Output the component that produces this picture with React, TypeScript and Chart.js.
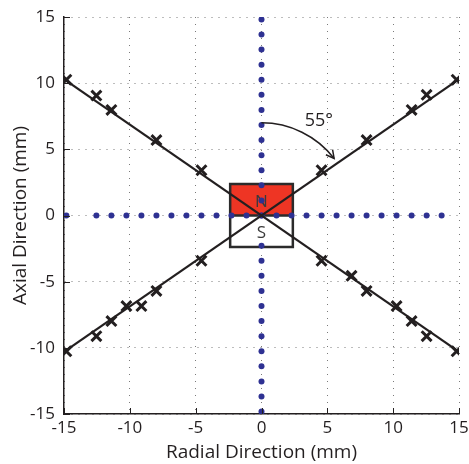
import React, { useEffect, useRef } from 'react';
import { Chart, registerables } from 'chart.js';

Chart.register(...registerables);

// ---------- data ----------
const AXIS_MIN = -15;
const AXIS_MAX = 15;
const TICK_STEP = 5;
const X_TITLE = 'Radial Direction (mm)';
const Y_TITLE = 'Axial Direction (mm)';

// field lines through the centre (55° from the axial direction)
const LINE_A = [{ x: -15, y: 10.3 }, { x: 15, y: -10.3 }];
const LINE_B = [{ x: -15, y: -10.3 }, { x: 15, y: 10.3 }];

// measurement markers (x)
const MARK_UL_X = [-14.82, -12.54, -11.4, -7.98, -4.56];
const MARK_UL_Y = [10.26, 9.06, 7.98, 5.7, 3.42];
const MARK_UR_X = [4.56, 7.98, 11.4, 12.54, 14.82];
const MARK_UR_Y = [3.42, 5.7, 7.98, 9.12, 10.26];
const MARK_LL_X = [-14.82, -12.54, -11.4, -10.26, -9.12, -7.98, -4.56];
const MARK_LL_Y = [-10.26, -9.12, -7.98, -6.84, -6.84, -5.7, -3.42];
const MARK_LR_X = [4.56, 6.84, 7.98, 10.26, 11.4, 12.54, 14.82];
const MARK_LR_Y = [-3.42, -4.56, -5.7, -6.84, -7.98, -9.12, -10.26];

// sensor positions along the axes (blue dots)
const HORIZ_DOTS_X = [-14.82, -12.54, -11.4, -10.26, -9.12, -7.98, -6.84, -5.7, -4.56, -3.42, -2.28, -1.14, 0,
  1.14, 2.28, 3.42, 4.56, 5.7, 6.84, 7.98, 9.12, 10.26, 11.4, 12.54, 13.68];
const VERT_DOTS_Y = [14.82, 13.68, 12.54, 11.4, 10.26, 9.12, 7.98, 6.84, 5.7, 4.56, 3.42, 2.28, 1.14, 0,
  -2.28, -3.42, -4.56, -5.7, -6.84, -7.98, -9.12, -10.26, -11.4, -12.54, -13.68, -14.82];

// magnet
const MAGNET_HALF = 2.38;
const NORTH_LABEL = 'N';
const SOUTH_LABEL = 'S';
const NORTH_LABEL_Y = 0.62;
const SOUTH_LABEL_Y = -1.72;

// angle annotation
const ARC_RADIUS = 7;
const ARC_END_DEG = 52;
const ANGLE_TEXT = '55°';
const ANGLE_TEXT_X = 4.35;
const ANGLE_TEXT_Y = 6.77;

// ---------- style ----------
const FONT = '"Open Sans", "Noto Sans", sans-serif';
const INK = '#231f20';
const BLUE = '#2e3192';
const RED = '#ee3524';
const GRID = '#7a7a7a';

const zip = (xs: number[], ys: number[]) => xs.map((x, i) => ({ x, y: ys[i] }));

const annotationPlugin = {
  id: 'annotations',
  beforeDatasetsDraw(chart: any) {
    const { ctx, scales } = chart;
    const x = scales.x, y = scales.y;
    const l = x.getPixelForValue(-MAGNET_HALF);
    const r = x.getPixelForValue(MAGNET_HALF);
    const t = y.getPixelForValue(MAGNET_HALF);
    const m = y.getPixelForValue(0);
    const b = y.getPixelForValue(-MAGNET_HALF);
    ctx.save();
    ctx.fillStyle = RED;
    ctx.fillRect(l, t, r - l, m - t);
    ctx.fillStyle = '#ffffff';
    ctx.fillRect(l, m, r - l, b - m);
    ctx.strokeStyle = '#2b2b2b';
    ctx.lineWidth = 2.5;
    ctx.strokeRect(l, t, r - l, b - t);
    ctx.beginPath();
    ctx.moveTo(l, m);
    ctx.lineTo(r, m);
    ctx.stroke();
    ctx.fillStyle = '#3a3a3a';
    ctx.font = `17px ${FONT}`;
    ctx.textAlign = 'center';
    ctx.textBaseline = 'alphabetic';
    const cx = x.getPixelForValue(0);
    ctx.fillText(NORTH_LABEL, cx, y.getPixelForValue(NORTH_LABEL_Y));
    ctx.fillText(SOUTH_LABEL, cx, y.getPixelForValue(SOUTH_LABEL_Y));
    ctx.restore();
  },
  afterDatasetsDraw(chart: any) {
    const { ctx, scales } = chart;
    const x = scales.x, y = scales.y;
    const cx = x.getPixelForValue(0);
    const cy = y.getPixelForValue(0);
    const rx = x.getPixelForValue(ARC_RADIUS) - cx;
    const ry = cy - y.getPixelForValue(ARC_RADIUS);
    const start = -Math.PI / 2;
    const end = start + (ARC_END_DEG * Math.PI) / 180;
    ctx.save();
    ctx.strokeStyle = INK;
    ctx.lineWidth = 1.5;
    ctx.beginPath();
    ctx.ellipse(cx, cy, rx, ry, 0, start, end);
    ctx.stroke();
    // arrow head
    const px = cx + rx * Math.cos(end);
    const py = cy + ry * Math.sin(end);
    const dx = -Math.sin(end), dy = Math.cos(end);
    const back = Math.atan2(-dy, -dx);
    const len = 9;
    const spread = (28 * Math.PI) / 180;
    ctx.beginPath();
    ctx.moveTo(px + len * Math.cos(back + spread), py + len * Math.sin(back + spread));
    ctx.lineTo(px, py);
    ctx.lineTo(px + len * Math.cos(back - spread), py + len * Math.sin(back - spread));
    ctx.stroke();
    // angle text
    ctx.fillStyle = INK;
    ctx.font = `18px ${FONT}`;
    ctx.textAlign = 'center';
    ctx.textBaseline = 'alphabetic';
    ctx.fillText(ANGLE_TEXT, x.getPixelForValue(ANGLE_TEXT_X), y.getPixelForValue(ANGLE_TEXT_Y));
    ctx.restore();
  },
  afterDraw(chart: any) {
    // inward tick marks
    const { ctx, scales, chartArea } = chart;
    const x = scales.x, y = scales.y;
    ctx.save();
    ctx.strokeStyle = INK;
    ctx.lineWidth = 1;
    ctx.beginPath();
    x.ticks.forEach((t: any) => {
      const px = Math.round(x.getPixelForValue(t.value)) + 0.5;
      ctx.moveTo(px, chartArea.bottom);
      ctx.lineTo(px, chartArea.bottom - 6);
    });
    y.ticks.forEach((t: any) => {
      const py = Math.round(y.getPixelForValue(t.value)) + 0.5;
      ctx.moveTo(chartArea.left, py);
      ctx.lineTo(chartArea.left + 6, py);
    });
    ctx.stroke();
    ctx.restore();
  },
};

export default function App() {
  const ref = useRef<HTMLCanvasElement | null>(null);
  useEffect(() => {
    if (!ref.current) return;
    const markerDs = (data: any[]) => ({
      data,
      showLine: false,
      pointStyle: 'crossRot',
      pointRadius: 7,
      pointBorderWidth: 3,
      borderColor: INK,
      backgroundColor: INK,
      order: 1,
    });
    const chart = new Chart(ref.current, {
      type: 'scatter',
      data: {
        datasets: [
          ...[zip(MARK_UL_X, MARK_UL_Y), zip(MARK_UR_X, MARK_UR_Y), zip(MARK_LL_X, MARK_LL_Y), zip(MARK_LR_X, MARK_LR_Y)].map(markerDs),
          ...[LINE_A, LINE_B].map((data) => ({
            data,
            showLine: true,
            pointRadius: 0,
            borderColor: INK,
            borderWidth: 2,
            order: 2,
          })),
          {
            data: HORIZ_DOTS_X.map((v) => ({ x: v, y: 0 })),
            pointRadius: 3,
            pointBorderWidth: 0,
            backgroundColor: BLUE,
            borderColor: BLUE,
            order: 3,
          },
          {
            data: VERT_DOTS_Y.map((v) => ({ x: 0, y: v })),
            pointRadius: 3,
            pointBorderWidth: 0,
            backgroundColor: BLUE,
            borderColor: BLUE,
            order: 3,
          },
        ] as any,
      },
      options: {
        animation: false,
        responsive: false,
        events: [],
        layout: { padding: { top: 17, right: 7, left: 0, bottom: 0 } },
        plugins: { legend: { display: false }, tooltip: { enabled: false } },
        scales: {
          x: {
            type: 'linear',
            min: AXIS_MIN,
            max: AXIS_MAX,
            ticks: { stepSize: TICK_STEP, color: INK, font: { family: FONT, size: 17 }, padding: 4, maxRotation: 0 },
            grid: { color: GRID, lineWidth: 1, drawTicks: false },
            border: { display: true, color: INK, width: 1.5, dash: [1, 6] } as any,
            title: { display: true, text: X_TITLE, color: INK, font: { family: FONT, size: 19 }, padding: { top: 0, bottom: 0 } },
            afterFit(scale: any) {
              scale.height = 50;
              scale.paddingLeft = 0;
              scale.paddingRight = 0;
            },
          },
          y: {
            type: 'linear',
            min: AXIS_MIN,
            max: AXIS_MAX,
            ticks: { stepSize: TICK_STEP, color: INK, font: { family: FONT, size: 17 }, padding: 9 },
            grid: { color: GRID, lineWidth: 1, drawTicks: false },
            border: { display: true, color: INK, width: 1.5, dash: [1, 6] } as any,
            title: { display: true, text: Y_TITLE, color: INK, font: { family: FONT, size: 19 }, padding: { top: 9, bottom: 0 } },
            afterFit(scale: any) {
              scale.width = 64;
              scale.paddingTop = 0;
              scale.paddingBottom = 0;
            },
          },
        },
      },
      plugins: [annotationPlugin],
    } as any);
    return () => chart.destroy();
  }, []);
  return (
    <div style={{ position: 'absolute', left: 0, top: 0, width: 469, height: 464, background: '#fff' }}>
      <canvas ref={ref} width={469} height={464} style={{ display: 'block' }} />
    </div>
  );
}
